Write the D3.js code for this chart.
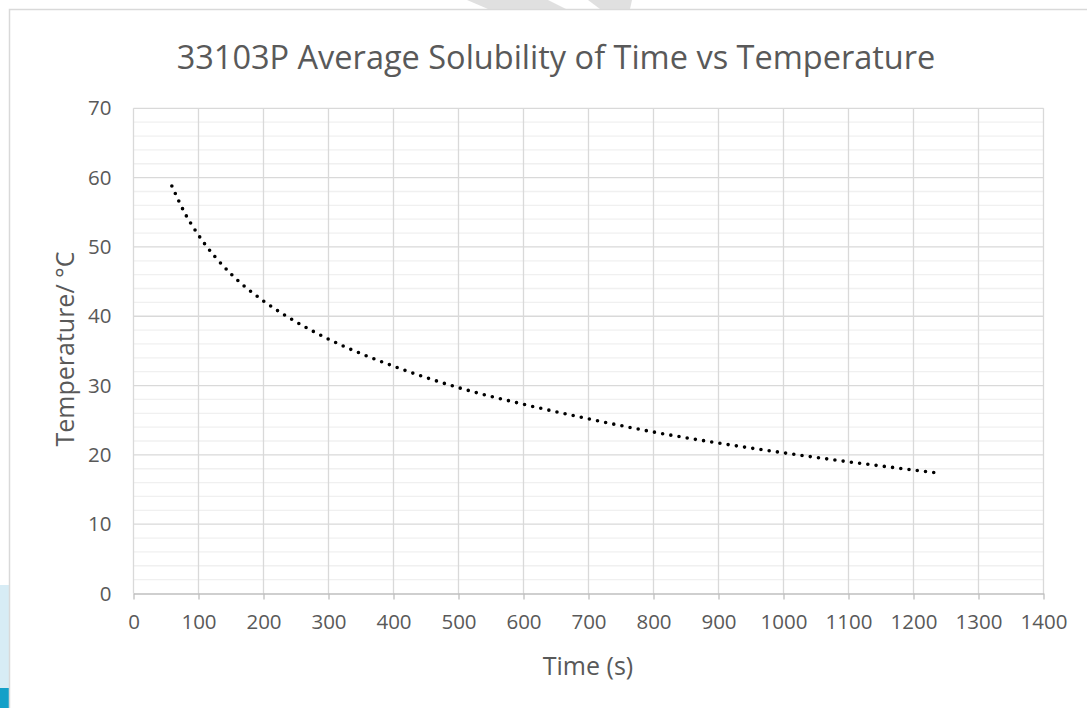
<!DOCTYPE html>
<html>
<head>
<meta charset="utf-8">
<script src="https://cdn.jsdelivr.net/npm/d3@7"></script>
<style>
  html, body { margin: 0; padding: 0; background: #fff; }
  svg { display: block; font-family: "Open Sans", sans-serif; }
</style>
</head>
<body>
<svg id="chart" width="1087" height="708"></svg>
<script>
// readings (time in s, temperature in °C)
const times = [59, 80, 100, 150, 200, 250, 300, 400, 500, 600, 700, 800, 900, 1000, 1100, 1237];
const temps = [58.8, 54.7, 51.7, 46.1, 42.2, 39.2, 36.7, 32.8, 29.7, 27.3, 25.2, 23.3, 21.7, 20.3, 19.0, 17.4];

const xTicks = [0, 100, 200, 300, 400, 500, 600, 700, 800, 900, 1000, 1100, 1200, 1300, 1400];
const yTicks = [0, 10, 20, 30, 40, 50, 60, 70];
const yMinor = d3.range(0, 71, 2);

const titleText = "33103P Average Solubility of Time vs Temperature";
const xTitle = "Time (s)";
const yTitle = "Temperature/ °C";

const svg = d3.select("#chart");
const textColor = "#595959";

// background bits around the chart frame
svg.append("rect").attr("x", 0).attr("y", 585).attr("width", 9).attr("height", 123).attr("fill", "#d7ecf5");
svg.append("rect").attr("x", 0).attr("y", 688).attr("width", 9).attr("height", 20).attr("fill", "#14a0c8");
svg.append("polygon").attr("points", "467,0 548,0 566,9 488,9").attr("fill", "#e0e0e0");
svg.append("polygon").attr("points", "588,0 632,0 630,9 600,9").attr("fill", "#e0e0e0");

// chart area
svg.append("rect")
    .attr("x", 9.5).attr("y", 9.5)
    .attr("width", 1100).attr("height", 720)
    .attr("fill", "#fff")
    .attr("stroke", "#d9d9d9")
    .attr("stroke-width", 1.5);

const x = d3.scaleLinear().domain([0, 1400]).range([133.5, 1043.5]);
const y = d3.scaleLinear().domain([0, 70]).range([593.5, 108.3]);

const grid = svg.append("g");

// minor horizontal gridlines
grid.selectAll(".minor")
    .data(yMinor.filter(d => d % 10 !== 0))
    .enter().append("line")
    .attr("x1", x(0)).attr("x2", x(1400))
    .attr("y1", d => y(d)).attr("y2", d => y(d))
    .attr("stroke", "#f0f0f0")
    .attr("stroke-width", 1.3);

// major gridlines
grid.selectAll(".hmaj")
    .data(yTicks.filter(d => d > 0))
    .enter().append("line")
    .attr("x1", x(0)).attr("x2", x(1400))
    .attr("y1", d => y(d)).attr("y2", d => y(d))
    .attr("stroke", "#d9d9d9")
    .attr("stroke-width", 1.3);

grid.selectAll(".vmaj")
    .data(xTicks)
    .enter().append("line")
    .attr("x1", d => x(d)).attr("x2", d => x(d))
    .attr("y1", y(70)).attr("y2", y(0))
    .attr("stroke", "#d9d9d9")
    .attr("stroke-width", 1.3);

// x axis
const xAxis = svg.append("g")
    .attr("transform", `translate(0,${y(0)})`)
    .call(d3.axisBottom(x).tickValues(xTicks).tickFormat(d3.format("d"))
        .tickSize(6).tickPadding(15).tickSizeOuter(0));
xAxis.select(".domain").attr("stroke", "#bfbfbf").attr("stroke-width", 1.5);
xAxis.selectAll(".tick line").attr("stroke", "#bfbfbf").attr("stroke-width", 1.3);
xAxis.selectAll("text")
    .attr("fill", textColor)
    .style("font-size", "20.5px")
    .style("font-family", "Open Sans, sans-serif");

// y axis (labels only)
const yAxis = svg.append("g")
    .attr("transform", `translate(${x(0)},0)`)
    .call(d3.axisLeft(y).tickValues(yTicks).tickSize(0).tickPadding(22));
yAxis.select(".domain").remove();
yAxis.selectAll("text")
    .attr("fill", textColor)
    .style("font-size", "20.5px")
    .style("font-family", "Open Sans, sans-serif");

// dotted curve
const line = d3.line()
    .x((d, i) => x(times[i]))
    .y(d => y(d))
    .curve(d3.curveMonotoneX);

svg.append("path")
    .datum(temps)
    .attr("d", line)
    .attr("fill", "none")
    .attr("stroke", "#000")
    .attr("stroke-width", 3.6)
    .attr("stroke-linecap", "round")
    .attr("stroke-dasharray", "0 8.3");

// titles
svg.append("text")
    .attr("x", 556).attr("y", 69)
    .attr("text-anchor", "middle")
    .attr("fill", textColor)
    .style("font-size", "32.5px")
    .text(titleText);

svg.append("text")
    .attr("x", 588).attr("y", 675)
    .attr("text-anchor", "middle")
    .attr("fill", textColor)
    .style("font-size", "25px")
    .text(xTitle);

svg.append("text")
    .attr("transform", "translate(74,349) rotate(-90)")
    .attr("text-anchor", "middle")
    .attr("fill", textColor)
    .style("font-size", "25px")
    .text(yTitle);
</script>
</body>
</html>
